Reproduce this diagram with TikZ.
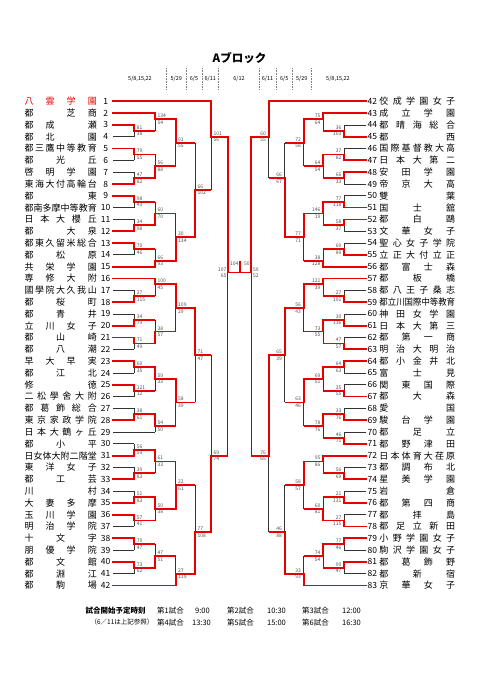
\documentclass[tikz,border=0pt]{standalone}
\usepackage{fontspec}
\setmainfont{Noto Sans CJK JP}
\definecolor{winred}{RGB}{232,0,0}
\definecolor{scoregray}{RGB}{80,80,80}
\definecolor{scorepurple}{RGB}{125,70,170}

% spread the characters of a school name over a fixed width (* = empty slot)
\ExplSyntaxOn
\tl_new:N \l__blk_name_tl
\box_new:N \l__blk_name_box
\cs_new_protected:Npn \__blk_char:n #1
  { \tl_if_eq:nnTF {#1} {*} { \phantom{国} } {#1} }
\NewDocumentCommand \spread { m m }
  {
    \tl_set:No \l__blk_name_tl {#2}
    \hbox_set:Nn \l__blk_name_box
      { \tl_map_inline:Nn \l__blk_name_tl { \__blk_char:n {##1} } }
    \dim_compare:nNnTF { \box_wd:N \l__blk_name_box } > {#1}
      {
        \box_scale:Nnn \l__blk_name_box
          { \fp_eval:n { \dim_to_fp:n {#1} / \dim_to_fp:n { \box_wd:N \l__blk_name_box } } }
          { 1 }
        \box_use:N \l__blk_name_box
      }
      {
        \hbox_to_wd:nn {#1}
          { \tl_map_inline:Nn \l__blk_name_tl { \__blk_char:n {##1} \hfill } \unskip }
      }
  }
\ExplSyntaxOff

\begin{document}
\begin{tikzpicture}[x=1pt, y=-1pt,
    lose/.style={black!80, line width=0.7pt},
    win/.style={winred, line width=1.8pt, shorten <=-0.9pt},
    score/.style={font=\fontsize{5}{5}\selectfont, text=scoregray, inner sep=0pt},
    teamname/.style={font=\fontsize{9}{9}\selectfont, inner sep=0pt},
    teamno/.style={font=\fontsize{8.5}{8.5}\selectfont, inner sep=0pt},
    dayhead/.style={font=\fontsize{5.5}{5.5}\selectfont, inner sep=0pt},
    footer/.style={font=\fontsize{7.5}{7.5}\selectfont, inner sep=0pt}]
  \fill[white] (0,0) rectangle (481,680);
  \useasboundingbox (0,0) rectangle (481,680);

  % title and match days
  \node[font=\bfseries\fontsize{11.5}{11.5}\selectfont] (title) at (239.5,58) {Aブロック};
  \foreach \x/\d [count=\k] in {140/{5/8,15,22}, 176.3/{5/29}, 194/{6/5}, 210.3/{6/11}, 239/{6/12},
      267.5/{6/11}, 284.3/{6/5}, 301.8/{5/29}, 338/{5/8,15,22}}
    \node[dayhead] (day\k) at (\x,79) {\d};
  \foreach \x in {166.7,186,202,218.7,259,276,292.7,311}
    \draw[gray, densely dotted, line width=0.6pt] (\x,68) -- (\x,90);

  \begin{scope}[y=-11.81pt, yshift=-89.49pt]
    % left side teams
    \foreach \s [count=\i] in {八*雲*学*園, 都***芝*商, 都*成***瀬, 都*北***園, 都三鷹中等教育,
        都**光**丘, 啓*明*学*園, 東海大付高輪台, 都*****東, 都南多摩中等教育, 日本大櫻丘,
        都***大*泉, 都東久留米総合, 都**松**原, 共*栄*学*園, 専*修*大*附, 國學院大久我山,
        都**桜**町, 都**青**井, 立*川*女*子, 都**山**崎, 都**八**潮, 早*大*早*実,
        都**江**北, 修*****徳, 二松學舍大附, 都葛飾総合, 東京家政学院, 日本大鶴ヶ丘,
        都**小**平, 日女体大附二階堂, 東*洋*女*子, 都**工**芸, 川*****村, 大*妻*多*摩,
        玉*川*学*園, 明*治*学*院, 十**文**字, 朋*優*学*院, 都**文**館, 都**淵**江,
        都**駒**場} {
      \ifnum\i=1 \def\tcol{winred}\else\def\tcol{black}\fi
      \node[teamname, text=\tcol] (tL\i) at (60.65,\i) {\spread{72.3pt}{\s}};
      \node[teamno] (nL\i) at (105.7,\i) {\i};
    }
    % right side teams
    \foreach \s [count=\i from 42] in {佼成学園女子, 成*立*学*園, 都晴海総合, 都*****西,
        国際基督教大高, 日本大第二, 安*田*学*園, 帝*京*大*高, 雙*****葉, 国**士**舘,
        都**白**鷗, 文*華*女*子, 聖心女子学院, 立正大付立正, 都*富*士*森, 都**板**橋,
        都八王子桑志, 都立川国際中等教育, 神田女学園, 日本大第三, 都*第*一*商, 明治大明治,
        都小金井北, 富**士**見, 関*東*国*際, 都**大**森, 愛*****国, 駿*台*学*園,
        都**足**立, 都*野*津*田, 日本体育大荏原, 都*調*布*北, 星*美*学*園, 岩*****倉,
        都*第*四*商, 都**拝**島, 都足立新田, 小野学園女子, 駒沢学園女子, 都*葛*飾*野,
        都**新**宿, 京*華*女*子} {
      \pgfmathtruncatemacro\r{\i-41}
      \node[teamname] (tR\i) at (417.3,\r) {\spread{75.7pt}{\s}};
      \node[teamno] (nR\i) at (372.3,\r) {\i};
    }

    % entry lines
    \foreach \r/\c/\s in {1/211/win, 2/155/win, 3/134.3/win, 4/134.3/lose, 5/134.3/win,
        6/134.3/lose, 7/134.3/lose, 8/134.3/win, 9/134.3/win, 10/134.3/lose, 11/134.3/lose,
        12/134.3/win, 13/134.3/win, 14/134.3/lose, 15/155/win, 16/155/win, 17/134.3/lose,
        18/134.3/win, 19/134.3/lose, 20/134.3/win, 21/134.3/win, 22/134.3/lose, 23/134.3/win,
        24/134.3/lose, 25/134.3/win, 26/134.3/lose, 27/134.3/lose, 28/134.3/win, 29/155/lose,
        30/134.3/lose, 31/134.3/win, 32/134.3/lose, 33/134.3/win, 34/134.3/lose, 35/134.3/win,
        36/134.3/win, 37/134.3/lose, 38/134.3/win, 39/134.3/lose, 40/134.3/win, 41/134.3/lose,
        42/175.7/win}
      \draw[\s] (113,\r) -- (\c,\r);
    \foreach \r/\c/\s in {1/268.7/win, 2/323/win, 3/344/lose, 4/344/win, 5/344/lose,
        6/344/win, 7/344/win, 8/344/lose, 9/344/lose, 10/344/win, 11/344/win, 12/344/lose,
        13/344/lose, 14/344/win, 15/323/win, 16/323/win, 17/344/lose, 18/344/win, 19/344/lose,
        20/344/win, 21/344/lose, 22/344/win, 23/344/win, 24/344/lose, 25/344/lose, 26/344/win,
        27/344/lose, 28/344/win, 29/344/lose, 30/344/win, 31/323/win, 32/344/lose, 33/344/win,
        34/344/lose, 35/344/win, 36/344/lose, 37/344/win, 38/344/win, 39/344/lose, 40/344/win,
        41/344/lose, 42/303.7/win}
      \draw[\s] (366,\r) -- (\c,\r);

    % games: column/top/bottom/out/next column/winner row/top score/bottom score
    \def\leftgames{134.3/3/4/3.5/155/3/81/38, 134.3/5/6/5.5/155/5/79/55,
      134.3/7/8/7.5/155/8/47/82, 134.3/9/10/9.5/155/9/98/43, 134.3/11/12/11.5/155/12/34/98,
      134.3/13/14/13.5/155/13/70/46, 134.3/17/18/17.5/155/18/27/115,
      134.3/19/20/19.5/155/20/34/79, 134.3/21/22/21.5/155/21/71/49,
      134.3/23/24/23.5/155/23/60/35, 134.3/25/26/25.5/155/25/121/12,
      134.3/27/28/27.5/155/28/38/61, 134.3/30/31/30.5/155/31/56/59,
      134.3/32/33/32.5/155/33/39/83, 134.3/34/35/34.5/155/35/51/83,
      134.3/36/37/36.5/155/36/57/41, 134.3/38/39/38.5/155/38/70/47,
      134.3/40/41/40.5/155/40/73/62,
      155/2/3.5/2.5/175.7/2/134/54, 155/5.5/7.5/6.5/175.7/7.5/56/88,
      155/9.5/11.5/10.5/175.7/11.5/60/70, 155/13.5/15/14.5/175.7/15/66/93,
      155/16/17.5/16.5/175.7/16/100/45, 155/19.5/21.5/20.5/175.7/21.5/38/57,
      155/23.5/25.5/24.5/175.7/23.5/59/33, 155/27.5/29/28.5/175.7/27.5/54/50,
      155/30.5/32.5/31.5/175.7/30.5/61/33, 155/34.5/36.5/35.5/175.7/34.5/50/38,
      155/38.5/40.5/39.5/175.7/40.5/47/51,
      175.7/2.5/6.5/4.5/195/2.5/91/55, 175.7/10.5/14.5/12.5/195/14.5/30/134,
      175.7/16.5/20.5/18.5/195/16.5/109/29, 175.7/24.5/28.5/26.5/195/24.5/58/39,
      175.7/31.5/35.5/33.5/195/35.5/22/61, 175.7/39.5/42/41/195/42/27/119,
      195/4.5/12.5/8.5/211/12.5/66/102, 195/18.5/26.5/22.5/211/18.5/71/47,
      195/33.5/41/37.5/211/41/77/108,
      211/1/8.5/4/227.7/1/101/56, 211/22.5/37.5/31/227.7/37.5/69/74}
    \def\rightgames{344/3/4/3.5/323/4/36/103, 344/5/6/5.5/323/6/37/82,
      344/7/8/7.5/323/7/66/33, 344/9/10/9.5/323/10/77/118, 344/11/12/11.5/323/11/58/37,
      344/13/14/13.5/323/14/60/89, 344/17/18/17.5/323/18/27/101,
      344/19/20/19.5/323/20/30/116, 344/21/22/21.5/323/22/47/57,
      344/23/24/23.5/323/23/64/63, 344/25/26/25.5/323/26/35/55,
      344/27/28/27.5/323/28/33/76, 344/29/30/29.5/323/30/46/71,
      344/32/33/32.5/323/33/56/69, 344/34/35/34.5/323/35/21/131,
      344/36/37/36.5/323/37/27/115, 344/38/39/38.5/323/38/77/46,
      344/40/41/40.5/323/40/90/47,
      323/2/3.5/2.5/303.7/2/75/64, 323/5.5/7.5/6.5/303.7/5.5/64/54,
      323/9.5/11.5/10.5/303.7/9.5/146/19, 323/13.5/15/14.5/303.7/15/38/128,
      323/16/17.5/16.5/303.7/16/121/39, 323/19.5/21.5/20.5/303.7/19.5/73/55,
      323/23.5/25.5/24.5/303.7/23.5/69/51, 323/27.5/29.5/28.5/303.7/27.5/78/76,
      323/31/32.5/31.5/303.7/31/95/86, 323/34.5/36.5/35.5/303.7/36.5/60/81,
      323/38.5/40.5/39.5/303.7/38.5/74/54,
      303.7/2.5/6.5/4.5/284.7/2.5/72/58, 303.7/10.5/14.5/12.5/284.7/10.5/77/71,
      303.7/16.5/20.5/18.5/284.7/16.5/56/{\color{scorepurple}43},
      303.7/24.5/28.5/26.5/284.7/24.5/63/46, 303.7/31.5/35.5/33.5/284.7/31.5/58/57,
      303.7/39.5/42/41/284.7/42/33/{\color{scorepurple}93},
      284.7/4.5/12.5/7.5/268.7/12.5/66/67, 284.7/18.5/26.5/22.5/268.7/18.5/65/39,
      284.7/33.5/41/37.5/268.7/41/46/88,
      268.7/1/7.5/4/251.3/1/60/55, 268.7/22.5/37.5/31/251.3/22.5/76/65}

    \foreach \c/\t/\b/\o/\n/\v/\p/\q in \leftgames
      \draw[lose] (\c,\t) -- (\c,\b);
    \foreach \c/\t/\b/\o/\n/\v/\p/\q in \rightgames
      \draw[lose] (\c,\t) -- (\c,\b);
    \draw[lose] (227.7,4) -- (227.7,31);
    \draw[lose] (251.3,4) -- (251.3,31);

    \foreach \c/\t/\b/\o/\n/\v/\p/\q [count=\m] in \leftgames {
      \draw[win] (\c,\v) |- (\n,\o);
      \node[score, anchor=west, yshift=3.3pt] (sLa\m) at (\c+2.3,\o) {\p};
      \node[score, anchor=west, yshift=-3.3pt] (sLb\m) at (\c+2.3,\o) {\q};
    }
    \foreach \c/\t/\b/\o/\n/\v/\p/\q [count=\m] in \rightgames {
      \draw[win] (\c,\v) |- (\n,\o);
      \node[score, anchor=east, yshift=3.3pt] (sRa\m) at (\c-2.5,\o) {\p};
      \node[score, anchor=east, yshift=-3.3pt] (sRb\m) at (\c-2.5,\o) {\q};
    }

    % semifinals and final
    \draw[win, shorten >=-0.9pt] (227.7,4) -- (227.7,15.5) -- (251.3,15.5) -- (251.3,4);
    \draw[win] (240.3,15.5) -- (240.3,14.5);
    \node[score, anchor=east, yshift=3.3pt] (semiLa) at (226.5,15.5) {107};
    \node[score, anchor=east, yshift=-3.3pt] (semiLb) at (226.5,15.5) {65};
    \node[score, anchor=west, yshift=3.3pt] (semiRa) at (252.9,15.5) {59};
    \node[score, anchor=west, yshift=-3.3pt] (semiRb) at (252.9,15.5) {52};
    \node[score, anchor=east] (finL) at (238.6,14.72) {104};
    \node[score, anchor=west] (finR) at (243.9,14.72) {50};
  \end{scope}

  % start times
  \node[inner sep=0pt, font=\bfseries\fontsize{7.5}{7.5}\selectfont] (start) at (115.5,610.5) {試合開始予定時刻};
  \node[inner sep=0pt, font=\fontsize{6.5}{6.5}\selectfont] (note) at (122,622.5) {（6／11は上記参照）};
  \foreach \x/\t [count=\k] in {170.5/第1試合, 202.5/9:00, 240.5/第2試合, 276.5/10:30,
      315.5/第3試合, 351.5/12:00}
    \node[footer] (slotA\k) at (\x,610.5) {\t};
  \foreach \x/\t [count=\k] in {170.5/第4試合, 201.5/13:30, 240.5/第5試合, 276.5/15:00,
      315.5/第6試合, 351.5/16:30}
    \node[footer] (slotB\k) at (\x,622.5) {\t};
\end{tikzpicture}
\end{document}
